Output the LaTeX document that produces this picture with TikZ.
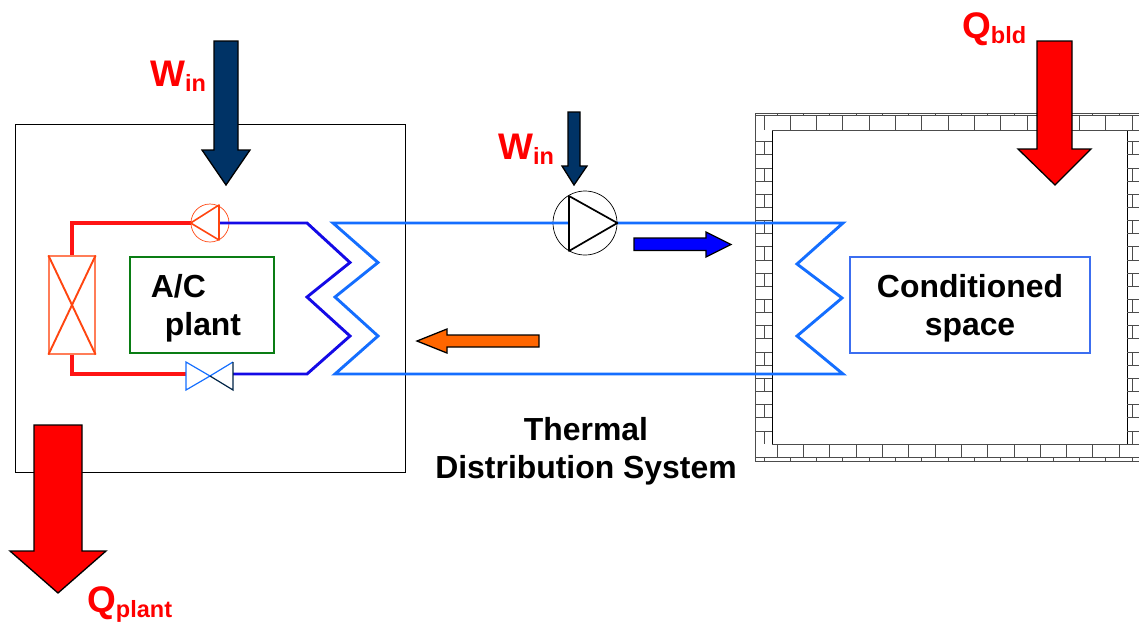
\documentclass[tikz,border=0pt]{standalone}
\usepackage{xcolor}
\usepackage{fontspec}
\setmainfont{Liberation Sans}
\usetikzlibrary{calc,positioning}
\definecolor{pipeRed}{RGB}{255,20,20}
\definecolor{coilOrange}{RGB}{255,69,16}
\definecolor{pipeBlue}{RGB}{20,110,255}
\definecolor{coilBlue}{RGB}{20,10,230}
\definecolor{workNavy}{RGB}{0,51,102}
\definecolor{flowBlue}{RGB}{0,0,255}
\definecolor{flowOrange}{RGB}{255,102,0}
\definecolor{plantGreen}{RGB}{10,125,20}
\definecolor{spaceBlue}{RGB}{60,110,240}
\tikzset{
    bigtext/.style={font=\fontsize{31.9}{38}\selectfont\bfseries, align=center, inner sep=0pt},
    flowtext/.style={font=\fontsize{37}{40}\selectfont\bfseries, text=red, inner sep=0pt, anchor=base west},
    brick/.style={line width=1pt, black!70},
    blockarrow/.style={draw=black, line width=1.3pt, line join=miter},
    pipe/.style={line width=2.9pt, line join=miter},
}
\newcommand{\flowsub}[1]{\raisebox{-5pt}{\fontsize{23.5}{25}\selectfont #1}}

\begin{document}
\begin{tikzpicture}[x=1pt,y=-1pt]
    \useasboundingbox (0,0) rectangle (1139,622);

    % Building wall
    \draw[brick] (1139,113.5) -- (755,113.5) -- (755,461.5) -- (1139,461.5);
    \draw[brick] (755,115.5) -- (1139,115.5);
    \draw[brick] (755,457.5) -- (1139,457.5);
    \draw[brick, black] (772,130) rectangle (1127,444.3);
    \draw[brick] (772,130) -- (1139,130);
    \draw[brick] (772,444.3) -- (1139,444.3);
    \foreach \xj in {764,790.3,...,1136} {
        \draw[brick] (\xj,115.5) -- (\xj,130);
        \draw[brick] (\xj,457.5) -- (\xj,461.5);
    }
    \foreach \xj in {777.3,803.6,...,1136} {
        \draw[brick] (\xj,113.5) -- (\xj,115.5);
        \draw[brick] (\xj,444.3) -- (\xj,457.5);
    }
    \foreach \yj in {141.7,154.85,...,440} {
        \draw[brick] (755,\yj) -- (772,\yj);
        \draw[brick] (1127,\yj) -- (1139,\yj);
    }
    \foreach \yj in {141.7,168,...,440} {
        \draw[brick] (764,\yj) -- (764,\yj+13.15);
        \draw[brick] (1132.7,\yj) -- (1132.7,\yj+13.15);
    }

    % Plant enclosure and text boxes
    \node[draw, line width=0.7pt, minimum width=390pt, minimum height=348pt, inner sep=0pt] (plantbox) at (210,298) {};
    \node[draw=plantGreen, line width=1.7pt, minimum width=144pt, minimum height=96pt, inner sep=0pt] (acbox) at (202,305) {};
    \node[draw=spaceBlue, line width=1.5pt, minimum width=240pt, minimum height=96pt, inner sep=0pt] (spacebox) at (970,305) {};
    \node[bigtext, align=left] (aclabel) at (196,308.5) {A/C\\\hspace*{14pt}plant};
    \node[bigtext] (spacelabel) at (970,308.5) {Conditioned\\space};
    \node[bigtext] (tdslabel) at (586,451) {Thermal\\Distribution System};

    % Components
    \node[draw=coilOrange!70, line width=1.2pt, minimum width=46pt, minimum height=98pt, inner sep=0pt] (condenser) at (72,305) {};
    \node[draw=coilOrange, circle, line width=0.7pt, minimum size=38pt, inner sep=0pt] (plantpump) at (210,223) {};
    \node[draw=black, circle, line width=0.7pt, minimum size=64pt, inner sep=0pt] (distpump) at (585,223) {};
    \coordinate (valveIn) at (186,374);
    \coordinate (valveOut) at (233,374);
    \coordinate (coilTop) at (307,223);
    \coordinate (coilBot) at (307,374);
    \coordinate (hxLeftTop) at (333,223);
    \coordinate (hxLeftBot) at (335,374);
    \coordinate (hxRightTop) at (843,223);
    \coordinate (hxRightBot) at (843,374);

    % Refrigerant loop
    \draw[pipe, pipeRed, line width=3.3pt] (plantpump.west) -| (condenser.north);
    \draw[pipe, pipeRed, line width=3.3pt] (condenser.south) |- (valveIn);
    \draw[pipe, coilBlue] (219,223) -- (coilTop) -- (350,262.5) -- (307,297) -- (350,336) -- (coilBot) -- (valveOut);

    % Water loop
    \draw[pipe, pipeBlue] (hxRightTop) -- (hxLeftTop) -- (378,262.5) -- (335,297) -- (378,336) -- (hxLeftBot) -- (hxRightBot) -- (797,336) -- (842,298) -- (797,264) -- cycle;

    % Condenser cross
    \draw[coilOrange, line width=1.9pt] (condenser.north west) -- (condenser.south east);
    \draw[coilOrange, line width=1.9pt] (condenser.north east) -- (condenser.south west);

    % Pump triangles
    \draw[coilOrange, line width=1.6pt, line join=round] (plantpump.west) -- (219,205) -- (219,240) -- cycle;
    \draw[black, fill=white, line width=1.7pt, line join=round] (569,196) -- (distpump.east) -- (569,251) -- cycle;

    % Expansion valve
    \draw[pipeBlue, line width=1.2pt] (210,376) -- (186,362) -- (186,390) -- cycle;
    \draw[pipeBlue, line width=1.2pt] (210,376) -- (233,362);
    \draw[workNavy!70!black, line width=1.2pt] (210,376) -- (233,390) -- (233,362);

    % Block arrows
    \draw[blockarrow, fill=workNavy] (214,41) -- (238,41) -- (238,150) -- (250,150) -- (226,185) -- (202,150) -- (214,150) -- cycle;
    \draw[blockarrow, fill=workNavy] (568,112) -- (580,112) -- (580,166) -- (587,166) -- (574,185) -- (562,166) -- (568,166) -- cycle;
    \draw[blockarrow, fill=red] (1037,41) -- (1072,41) -- (1072,149) -- (1091,149) -- (1055,185) -- (1018,149) -- (1037,149) -- cycle;
    \draw[blockarrow, fill=red] (34,425) -- (82,425) -- (82,551) -- (106,551) -- (58,593) -- (10,551) -- (34,551) -- cycle;
    \draw[blockarrow, fill=flowBlue] (634,238) -- (706,238) -- (706,232) -- (731,244.5) -- (706,257) -- (706,250.5) -- (634,250.5) -- cycle;
    \draw[blockarrow, fill=flowOrange] (539,335) -- (447,335) -- (447,329) -- (417,341) -- (447,353) -- (447,347) -- (539,347) -- cycle;

    % Flow labels
    \node[flowtext] (winplant) at (150,86) {W\flowsub{in}};
    \node[flowtext] (winpump) at (498,159) {W\flowsub{in}};
    \node[flowtext] (qbld) at (962,38) {Q\flowsub{bld}};
    \node[flowtext] (qplant) at (87,612) {Q\flowsub{plant}};
\end{tikzpicture}
\end{document}
